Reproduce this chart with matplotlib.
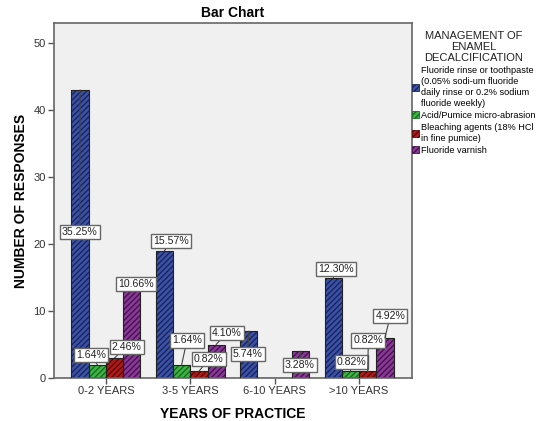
import matplotlib
matplotlib.use("Agg")
import matplotlib.pyplot as plt
from matplotlib.patches import Patch
import numpy as np

plt.rcParams['font.family'] = ['Liberation Sans', 'DejaVu Sans']
plt.rcParams['hatch.linewidth'] = 1.0

categories = ["0-2 YEARS", "3-5 YEARS", "6-10 YEARS", ">10 YEARS"]
series_names = ["Fluoride rinse or toothpaste\n(0.05% sodi-um fluoride\ndaily rinse or 0.2% sodium\nfluoride weekly)",
                "Acid/Pumice micro-abrasion",
                "Bleaching agents (18% HCl\nin fine pumice)",
                "Fluoride varnish"]
fluoride_rinse = [43, 19, 7, 15]
acid_pumice = [2, 2, 0, 1]
bleaching = [3, 1, 0, 1]
fluoride_varnish = [13, 5, 4, 6]
values = [fluoride_rinse, acid_pumice, bleaching, fluoride_varnish]
face_colors = ["#3b52a6", "#3db545", "#b01a1a", "#8a3a96"]
hatch_colors = ["#18245e", "#1b6a20", "#5c0808", "#45124f"]

total = sum(sum(v) for v in values)

fig = plt.figure(figsize=(5.46, 4.21), dpi=100)
ax = fig.add_axes([54/546, 43/421, 358/546, 355/421])
ax.set_facecolor("#f0f0f0")

x = np.arange(len(categories))
w = 0.204
offsets = [-1.5*w, -0.5*w, 0.5*w, 1.5*w]
for i, vals in enumerate(values):
    xs = x + offsets[i]
    ax.bar(xs, vals, width=w, color=face_colors[i], edgecolor=hatch_colors[i],
           hatch="//////", linewidth=0, zorder=2)
    ax.bar(xs, vals, width=w, fill=False, edgecolor="#222222", linewidth=0.8, zorder=3)

# percentage labels: (series, category, text x, text y)
label_pos = [
    (0, 0, -0.31, 21.8), (1, 0, -0.18, 3.4), (2, 0, 0.245, 4.6), (3, 0, 0.355, 14.0),
    (0, 1, 0.777, 20.4), (1, 1, 0.96, 5.6), (2, 1, 1.22, 2.8), (3, 1, 1.43, 6.7),
    (0, 2, 1.68, 3.6), (3, 2, 2.30, 1.9),
    (0, 3, 2.73, 16.3), (1, 3, 2.91, 2.4), (2, 3, 3.11, 5.6), (3, 3, 3.37, 9.3),
]
for s, c, tx, ty in label_pos:
    v = values[s][c]
    bx = c + offsets[s]
    txt = f"{100*v/total:.2f}%"
    ax.annotate(txt, xy=(bx, v), xytext=(tx, ty), ha="center", va="center",
                fontsize=7.6, color="#222222", zorder=5,
                bbox=dict(boxstyle="square,pad=0.2", fc="white", ec="#666666", lw=1.0),
                arrowprops=dict(arrowstyle="-", color="#444444", lw=0.8,
                                shrinkA=0, shrinkB=0))

ax.set_xlim(-0.615, 3.627)
ax.set_ylim(0, 53)
ax.set_xticks(x)
ax.set_xticklabels(categories, fontsize=8, color="#333333")
ax.set_yticks([0, 10, 20, 30, 40, 50])
ax.set_yticklabels(["0", "10", "20", "30", "40", "50"], fontsize=8, color="#333333")
ax.tick_params(axis="both", length=4, width=1, color="#555555", pad=2)
for sp in ax.spines.values():
    sp.set_color("#666666")
    sp.set_linewidth(1.2)

ax.set_title("Bar Chart", fontsize=10, fontweight="bold", pad=4)
ax.set_ylabel("NUMBER OF RESPONSES", fontsize=10, fontweight="bold", labelpad=4)
ax.set_xlabel("YEARS OF PRACTICE", fontsize=10, fontweight="bold", labelpad=8)

handles = [Patch(facecolor=face_colors[i], edgecolor=hatch_colors[i], hatch="//////",
                 linewidth=0.6) for i in range(4)]
leg = fig.legend(handles, series_names, loc="upper left",
                 bbox_to_anchor=(408/546, 1 - 27/421), frameon=False,
                 title="MANAGEMENT OF\nENAMEL\nDECALCIFICATION",
                 fontsize=6.6, title_fontsize=8, handlelength=0.8, handleheight=0.8,
                 handletextpad=0.25, labelspacing=0.35, borderaxespad=0)
for t in leg.get_texts():
    t.set_linespacing(1.25)
leg.get_title().set_multialignment("center")
leg.get_title().set_linespacing(1.15)
leg.get_title().set_color("#222222")

fig.savefig("out.png", dpi=100)
